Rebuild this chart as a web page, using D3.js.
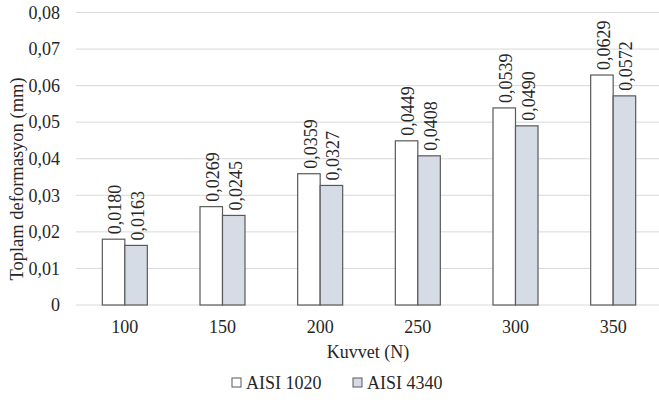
<!DOCTYPE html>
<html><head><meta charset="utf-8">
<script src="https://cdn.jsdelivr.net/npm/d3@7"></script>
<style>body{margin:0;background:#fff}svg{display:block}text{font-family:"Liberation Serif","Times New Roman",serif;fill:#262626}</style>
</head><body><div id="c"></div>
<script>
const categories = ["100","150","200","250","300","350"];
const seriesNames = ["AISI 1020","AISI 4340"];
const aisi1020 = [0.0180,0.0269,0.0359,0.0449,0.0539,0.0629];
const aisi4340 = [0.0163,0.0245,0.0327,0.0408,0.0490,0.0572];
const yTicks = [0,0.01,0.02,0.03,0.04,0.05,0.06,0.07,0.08];
const colors = ["#ffffff","#d6dce5"];

const W=659,H=400;
const svg=d3.select("#c").append("svg").attr("width",W).attr("height",H);
const x0=d3.scaleBand().domain(categories).range([76,662]).paddingInner(0).paddingOuter(0);
const y=d3.scaleLinear().domain([0,0.08]).range([305,12.5]);
const fmt=v=>v===0?"0":v.toFixed(2).replace(".",",");
const grid=svg.append("g");
grid.selectAll("line").data(yTicks).join("line")
 .attr("x1",76).attr("x2",659).attr("y1",d=>y(d)).attr("y2",d=>y(d))
 .attr("stroke","#d9d9d9").attr("stroke-width",1);
svg.append("g").selectAll("text").data(yTicks).join("text")
 .attr("x",60).attr("y",d=>y(d)).attr("dy","0.35em").attr("text-anchor","end")
 .attr("font-size",18).text(fmt);
const barW=22.5;
const series=[aisi1020,aisi4340];
series.forEach((vals,si)=>{
  const g=svg.append("g");
  g.selectAll("rect").data(vals).join("rect")
   .attr("x",(d,i)=>x0(categories[i])+x0.bandwidth()/2-barW+si*barW)
   .attr("y",d=>y(d)).attr("width",barW).attr("height",d=>y(0)-y(d))
   .attr("fill",colors[si]).attr("stroke","#595959").attr("stroke-width",1.2);
  g.selectAll("text").data(vals).join("text")
   .attr("transform",(d,i)=>`translate(${x0(categories[i])+x0.bandwidth()/2-barW/2+si*barW+1.5},${y(d)-5}) rotate(-90)`)
   .attr("dy","0.35em").attr("font-size",18).attr("text-anchor","start")
   .text(d=>d.toFixed(4).replace(".",","));
});
svg.append("g").selectAll("text").data(categories).join("text")
 .attr("x",d=>x0(d)+x0.bandwidth()/2).attr("y",327).attr("dy","0.35em")
 .attr("text-anchor","middle").attr("font-size",18).text(d=>d);
svg.append("text").attr("x",368).attr("y",352).attr("dy","0.35em").attr("text-anchor","middle")
 .attr("font-size",18).text("Kuvvet (N)");
svg.append("text").attr("transform","translate(17,179) rotate(-90)").attr("dy","0.35em")
 .attr("text-anchor","middle").attr("font-size",18.5).text("Toplam deformasyon (mm)");
const lx=[232,353];
seriesNames.forEach((n,i)=>{
  svg.append("rect").attr("x",lx[i]).attr("y",378).attr("width",9).attr("height",9)
   .attr("fill",colors[i]).attr("stroke","#595959").attr("stroke-width",1);
  svg.append("text").attr("x",lx[i]+14).attr("y",383).attr("dy","0.35em").attr("font-size",18).text(n);
});
</script></body></html>
